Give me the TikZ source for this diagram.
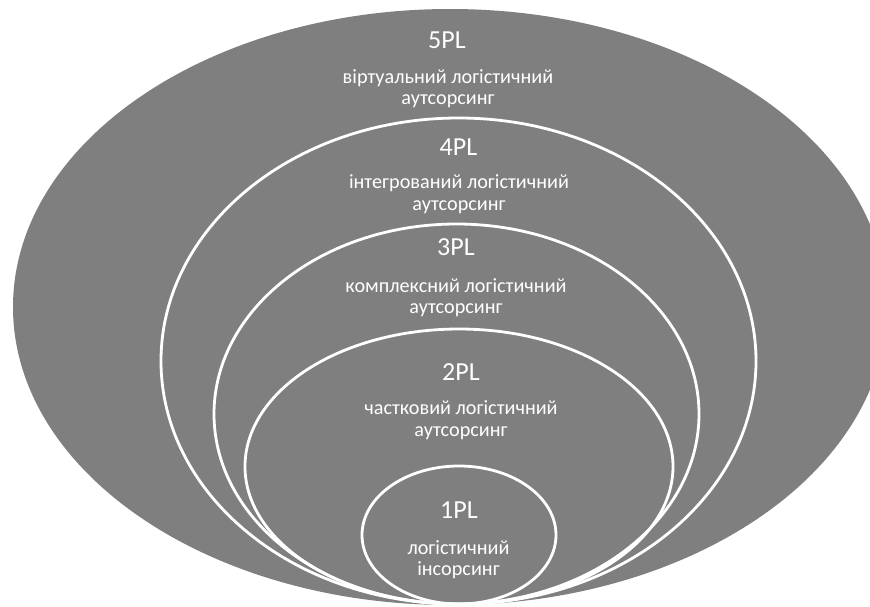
\documentclass[tikz,border=0pt]{standalone}
\usepackage{fontspec}
\setmainfont{Carlito}
\definecolor{bggray}{RGB}{127,127,127}
\begin{document}
\begin{tikzpicture}[x=1pt,y=-1pt,
  ring/.style={draw=white,line width=2.8pt},
  ttl/.style={text=white,anchor=base,inner sep=0pt,font=\fontsize{26}{30}\selectfont},
  dsc/.style={text=white,anchor=base,inner sep=0pt,font=\fontsize{20.2}{23}\selectfont}]
\useasboundingbox (0,0) rectangle (870,606);
\fill[white] (0,0) rectangle (870,606);
% outer
\fill[bggray] (450,307) ellipse [x radius=437pt, y radius=298pt];
% rings
\draw[ring] (458.5,361) ellipse [x radius=297.5pt, y radius=243pt];
\draw[ring] (456.5,414) ellipse [x radius=242.5pt, y radius=190pt];
\draw[ring] (459,466.5) ellipse [x radius=214pt, y radius=137.5pt];
\draw[ring] (459,535) ellipse [x radius=97pt, y radius=69pt];
% texts
\node[ttl] (t5) at (447,48) {5PL};
\node[dsc] (d5a) at (448,83) {віртуальний логістичний};
\node[dsc] (d5b) at (448,104) {аутсорсинг};
\node[ttl] (t4) at (458.5,155) {4PL};
\node[dsc] (d4a) at (459,188) {інтегрований логістичний};
\node[dsc] (d4b) at (459,210) {аутсорсинг};
\node[ttl] (t3) at (456,255) {3PL};
\node[dsc] (d3a) at (456,292) {комплексний логістичний};
\node[dsc] (d3b) at (456,313) {аутсорсинг};
\node[ttl] (t2) at (461,380) {2PL};
\node[dsc] (d2a) at (461,414) {частковий логістичний};
\node[dsc] (d2b) at (461,436) {аутсорсинг};
\node[ttl] (t1) at (459,518) {1PL};
\node[dsc] (d1a) at (458.5,554) {логістичний};
\node[dsc] (d1b) at (458.5,575) {інсорсинг};
\end{tikzpicture}
\end{document}
